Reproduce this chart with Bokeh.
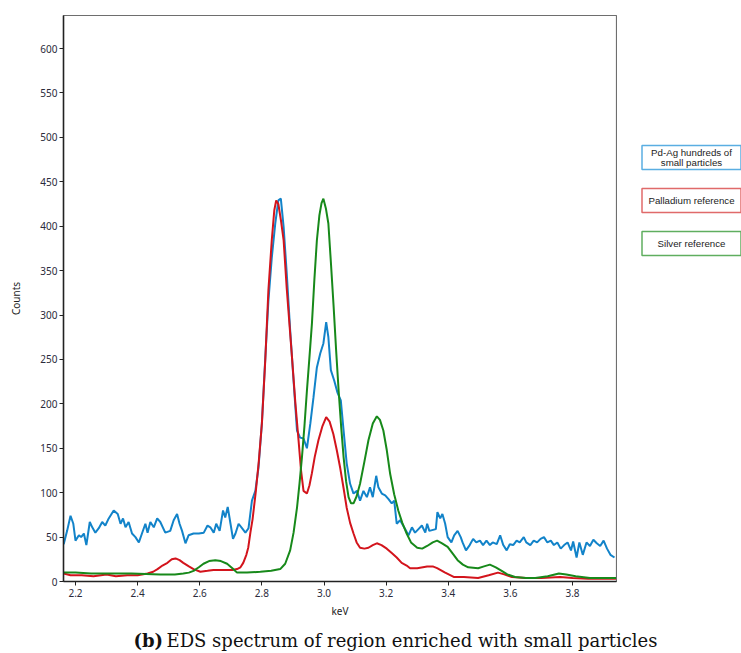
from bokeh.plotting import figure
from bokeh.layouts import column, row
from bokeh.models import Range1d, FixedTicker, NumeralTickFormatter
from bokeh.embed import file_html
from bokeh.resources import INLINE
from bokeh.core.properties import value

# EDS spectrum: Pd-Ag region with hundreds of small particles (noisy measurement)
kev_mix = [
    2.162, 2.173, 2.184, 2.193, 2.200, 2.211, 2.218, 2.227, 2.235, 2.246,
    2.254, 2.264, 2.275, 2.286, 2.296, 2.307, 2.323, 2.336, 2.345, 2.353,
    2.361, 2.371, 2.382, 2.393, 2.404, 2.414, 2.425, 2.432, 2.441, 2.452,
    2.463, 2.473, 2.489, 2.505, 2.516, 2.527, 2.535, 2.543, 2.554, 2.564,
    2.580, 2.597, 2.613, 2.625, 2.634, 2.645, 2.653, 2.664, 2.675, 2.682,
    2.690, 2.699, 2.707, 2.715, 2.725, 2.736, 2.747, 2.757, 2.768, 2.779,
    2.789, 2.800, 2.811, 2.821, 2.832, 2.843, 2.853, 2.861, 2.870, 2.880,
    2.891, 2.902, 2.913, 2.923, 2.934, 2.945, 2.956, 2.966, 2.977, 2.988,
    2.998, 3.007, 3.014, 3.022, 3.033, 3.043, 3.054, 3.063, 3.073, 3.084,
    3.095, 3.106, 3.116, 3.127, 3.138, 3.148, 3.157, 3.168, 3.175, 3.186,
    3.197, 3.207, 3.218, 3.226, 3.234, 3.245, 3.261, 3.272, 3.283, 3.293,
    3.304, 3.315, 3.326, 3.332, 3.339, 3.360, 3.365, 3.374, 3.381, 3.390,
    3.398, 3.410, 3.419, 3.430, 3.440, 3.446, 3.457, 3.469, 3.480, 3.490,
    3.502, 3.512, 3.523, 3.534, 3.543, 3.556, 3.567, 3.577, 3.588, 3.598,
    3.609, 3.620, 3.630, 3.643, 3.651, 3.664, 3.675, 3.686, 3.697, 3.708,
    3.719, 3.730, 3.740, 3.751, 3.762, 3.773, 3.784, 3.795, 3.802, 3.813,
    3.822, 3.833, 3.845, 3.856, 3.867, 3.878, 3.889, 3.900, 3.911, 3.922,
    3.935,
]
counts_mix = [
    42, 57, 74, 65, 46, 52, 50, 54, 41, 67,
    61, 55, 60, 67, 63, 71, 80, 76, 65, 71,
    61, 67, 54, 50, 44, 54, 65, 55, 67, 61,
    71, 67, 55, 57, 69, 76, 65, 57, 43, 52,
    54, 54, 55, 63, 61, 55, 65, 57, 80, 72,
    84, 65, 48, 54, 65, 60, 55, 60, 91, 102,
    128, 178, 252, 316, 365, 403, 429, 431, 399, 347,
    283, 226, 170, 162, 161, 150, 178, 207, 241, 257,
    268, 292, 275, 238, 226, 213, 204, 170, 133, 110,
    99, 102, 91, 102, 95, 106, 95, 119, 106, 99,
    97, 93, 88, 91, 65, 69, 59, 52, 61, 55,
    59, 63, 55, 65, 57, 59, 78, 71, 76, 65,
    50, 44, 52, 57, 50, 44, 35, 41, 48, 44,
    46, 41, 46, 41, 44, 42, 52, 41, 35, 42,
    41, 46, 44, 50, 44, 41, 46, 44, 48, 50,
    44, 46, 41, 44, 37, 41, 44, 35, 45, 27,
    44, 30, 44, 40, 47, 43, 40, 46, 37, 30,
    27,
]

# Palladium reference spectrum
kev_pd = [
    2.162, 2.184, 2.220, 2.258, 2.300, 2.330, 2.367, 2.400, 2.432, 2.450,
    2.464, 2.480, 2.496, 2.510, 2.522, 2.535, 2.547, 2.565, 2.580, 2.602,
    2.625, 2.644, 2.665, 2.688, 2.705, 2.720, 2.731, 2.740, 2.750, 2.756,
    2.763, 2.770, 2.780, 2.790, 2.800, 2.811, 2.821, 2.832, 2.840, 2.846,
    2.853, 2.862, 2.870, 2.880, 2.897, 2.908, 2.918, 2.926, 2.934, 2.945,
    2.953, 2.961, 2.970, 2.982, 2.995, 3.007, 3.018, 3.030, 3.041, 3.052,
    3.063, 3.073, 3.084, 3.095, 3.105, 3.116, 3.130, 3.143, 3.157, 3.170,
    3.185, 3.202, 3.218, 3.234, 3.250, 3.266, 3.277, 3.300, 3.332, 3.350,
    3.364, 3.390, 3.419, 3.450, 3.496, 3.530, 3.560, 3.580, 3.605, 3.650,
    3.700, 3.760, 3.800, 3.850, 3.900, 3.940,
]
counts_pd = [
    9, 7, 7, 6, 8, 6, 7, 7, 9, 11,
    14, 18, 21, 25, 26, 24, 21, 17, 14, 11,
    12, 13, 13, 13, 13, 14, 16, 21, 30, 38,
    55, 70, 100, 135, 178, 250, 328, 385, 418, 429,
    425, 405, 384, 330, 252, 200, 159, 125, 102, 99,
    108, 122, 140, 159, 175, 185, 180, 166, 148, 128,
    105, 83, 66, 54, 44, 38, 37, 38, 41, 43,
    41, 37, 32, 27, 21, 18, 15, 15, 17, 17,
    15, 10, 5, 5, 4, 7, 10, 8, 5, 4,
    4, 5, 4, 3, 3, 3,
]

# Silver reference spectrum
kev_ag = [
    2.162, 2.200, 2.250, 2.310, 2.380, 2.473, 2.520, 2.547, 2.565, 2.580,
    2.597, 2.612, 2.630, 2.650, 2.668, 2.688, 2.705, 2.720, 2.752, 2.795,
    2.830, 2.859, 2.875, 2.891, 2.902, 2.913, 2.921, 2.929, 2.937, 2.945,
    2.953, 2.961, 2.969, 2.977, 2.985, 2.992, 2.998, 3.006, 3.014, 3.022,
    3.031, 3.039, 3.047, 3.055, 3.063, 3.071, 3.079, 3.087, 3.095, 3.105,
    3.116, 3.130, 3.143, 3.157, 3.170, 3.180, 3.191, 3.202, 3.213, 3.226,
    3.239, 3.252, 3.266, 3.280, 3.300, 3.316, 3.332, 3.350, 3.364, 3.380,
    3.398, 3.415, 3.430, 3.447, 3.464, 3.496, 3.515, 3.534, 3.553, 3.572,
    3.590, 3.615, 3.650, 3.680, 3.720, 3.756, 3.780, 3.810, 3.856, 3.900,
    3.940,
]
counts_ag = [
    10, 10, 9, 9, 9, 8, 8, 9, 10, 12,
    16, 20, 23, 24, 23, 20, 15, 10, 10, 11,
    12, 14, 20, 35, 55, 83, 110, 140, 175, 215,
    252, 290, 340, 384, 412, 426, 431, 420, 403, 360,
    309, 260, 215, 175, 140, 113, 95, 88, 88, 96,
    110, 135, 159, 178, 186, 182, 170, 148, 121, 98,
    80, 66, 54, 44, 38, 37, 40, 44, 46, 43,
    39, 31, 24, 19, 16, 15, 17, 19, 16, 12,
    8, 5, 4, 4, 6, 9, 8, 6, 4, 4,
    4,
]

legend_lines = [["Pd-Ag hundreds of", "small particles"],
                ["Palladium reference"],
                ["Silver reference"]]
line_colors = ["#1283c9", "#d3141c", "#17891a"]
box_colors = ["#5aaee2", "#e06a6a", "#5fae5f"]

x_ticks = [2.2, 2.4, 2.6, 2.8, 3.0, 3.2, 3.4, 3.6, 3.8]
y_ticks = [0, 50, 100, 150, 200, 250, 300, 350, 400, 450, 500, 550, 600]

caption_tag = "(b)"
caption_text = "EDS spectrum of region enriched with small particles"

TICK_FONT = "Noto Sans"

# --- main spectrum plot -------------------------------------------------
p = figure(width=617, height=620,
           x_range=Range1d(2.1614, 3.9415), y_range=Range1d(0, 637.2),
           output_backend="svg", toolbar_location=None,
           min_border_left=63, min_border_right=1,
           min_border_top=15, min_border_bottom=39)
p.grid.visible = False
p.outline_line_color = "#6e6e6e"
p.outline_line_width = 1.2
p.background_fill_color = "white"

for xs, ys, c in [(kev_mix, counts_mix, line_colors[0]),
                  (kev_pd, counts_pd, line_colors[1]),
                  (kev_ag, counts_ag, line_colors[2])]:
    p.line(xs, ys, line_color=c, line_width=2)

p.xaxis.ticker = FixedTicker(ticks=x_ticks)
p.xaxis.formatter = NumeralTickFormatter(format="0.0")
p.yaxis.ticker = FixedTicker(ticks=y_ticks)
p.xaxis.axis_label = "keV"
p.yaxis.axis_label = "Counts"
for ax in (p.xaxis, p.yaxis):
    ax.axis_line_color = "#222222"
    ax.axis_line_width = 1.5
    ax.major_tick_line_color = "#222222"
    ax.major_tick_in = 0
    ax.major_tick_out = 4
    ax.minor_tick_line_color = None
    ax.major_label_text_font = TICK_FONT
    ax.major_label_text_font_size = "10px"
    ax.major_label_text_color = "#2b2b3b"
    ax.axis_label_text_font = TICK_FONT
    ax.axis_label_text_font_size = "10px"
    ax.axis_label_text_font_style = "normal"
    ax.axis_label_text_color = "#222222"
p.xaxis.major_label_standoff = 3
p.yaxis.major_label_standoff = 2
p.xaxis.axis_label_standoff = 4
p.yaxis.axis_label_standoff = 14

# --- legend panel (pixel-like coordinates, y downwards) -------------------
lf = figure(frame_width=124, frame_height=620,
            x_range=Range1d(617, 741), y_range=Range1d(620, 0),
            output_backend="svg", toolbar_location=None,
            x_axis_location=None, y_axis_location=None,
            min_border_left=0, min_border_right=0,
            min_border_top=0, min_border_bottom=0)
lf.grid.visible = False
lf.outline_line_color = None

box_tops = [130.0, 173.0, 216.0]
for lines, top, bc in zip(legend_lines, box_tops, box_colors):
    lf.quad(left=641.5, right=740.5, top=top, bottom=top + 24,
            fill_color="white", line_color=bc, line_width=1.5)
    if len(lines) == 2:
        ys = [top + 6.5, top + 17]
    else:
        ys = [top + 12]
    lf.text(x=[691] * len(lines), y=ys, text=lines,
            text_align="center", text_baseline="middle",
            text_font=value("Liberation Sans"), text_font_size="9.7px",
            text_color="#222222")

# --- caption --------------------------------------------------------------
cf = figure(frame_width=741, frame_height=33,
            x_range=Range1d(0, 741), y_range=Range1d(33, 0),
            output_backend="svg", toolbar_location=None,
            x_axis_location=None, y_axis_location=None,
            min_border_left=0, min_border_right=0,
            min_border_top=0, min_border_bottom=0)
cf.grid.visible = False
cf.outline_line_color = None
cf.text(x=[133], y=[20], text=[caption_tag], text_align="left",
        text_baseline="middle", text_font=value("DejaVu Serif"),
        text_font_size="18px", text_font_style="bold", text_color="#111111")
cf.text(x=[166], y=[20], text=[caption_text], text_align="left",
        text_baseline="middle", text_font=value("DejaVu Serif"),
        text_font_size="18px", text_color="#111111")

layout = column(row(p, lf, spacing=0), cf, spacing=0)
open("out.html", "w").write(file_html(layout, INLINE))
